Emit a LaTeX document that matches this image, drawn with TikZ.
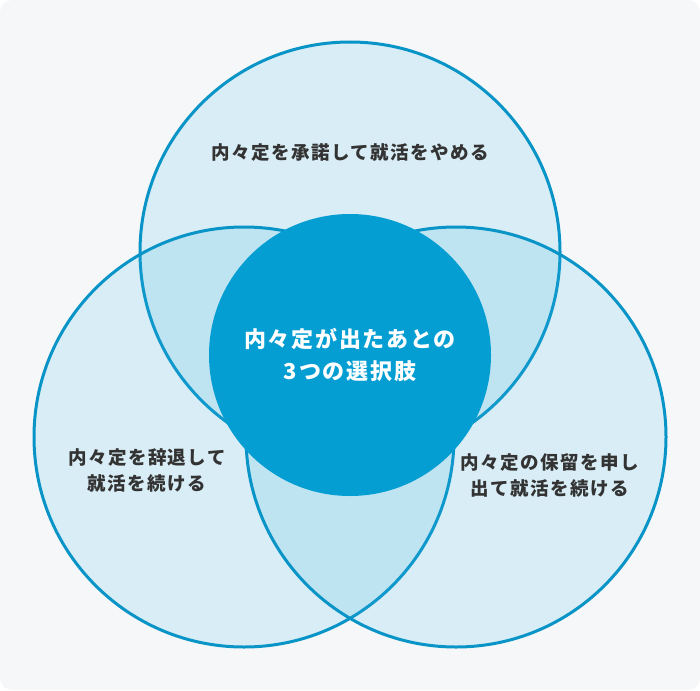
\documentclass[tikz,border=0pt]{standalone}
\usepackage{fontspec}
\usepackage{xcolor}
\usepackage{tikz}
\usetikzlibrary{positioning}
\newfontfamily\jpfont{Noto Sans CJK JP}[LetterSpace=8]
\definecolor{bgGray}{HTML}{F6F7F8}
\definecolor{ringLine}{HTML}{0994C8}
\definecolor{ringFill}{RGB}{46,180,228}
\definecolor{coreBlue}{HTML}{059ED3}
\definecolor{labelText}{HTML}{333333}

\begin{document}
\begin{tikzpicture}[x=1pt, y=-1pt]
\tikzstyle{ring} = [circle, minimum size=420pt, inner sep=0pt, draw=ringLine, line width=3pt, fill=ringFill, fill opacity=0.15, text opacity=1]
\tikzstyle{core} = [circle, minimum size=282pt, inner sep=0pt, fill=coreBlue, text=white, font=\jpfont\bfseries\fontsize{22}{32}\selectfont, align=center]
\tikzstyle{choice} = [text=labelText, font=\jpfont\bfseries\fontsize{18.5}{26}\selectfont, align=center]

\useasboundingbox (0,0) rectangle (700,690);
\fill [bgGray, rounded corners=12pt] (0,0) rectangle (700,690);

\node (accept) [ring] at (350,252) {};
\node (decline) [ring] at (244,437) {};
\node (hold) [ring] at (456,437) {};
\node (core) [core] at (350,355) {内々定が出たあとの\\3つの選択肢};

\node (acceptText) [choice] at (350,153) {内々定を承諾して就活をやめる};
\node (declineText) [choice] at (147,470) {内々定を辞退して\\就活を続ける};
\node (holdText) [choice] at (550,475) {内々定の保留を申し\\出て就活を続ける};
\end{tikzpicture}
\end{document}
